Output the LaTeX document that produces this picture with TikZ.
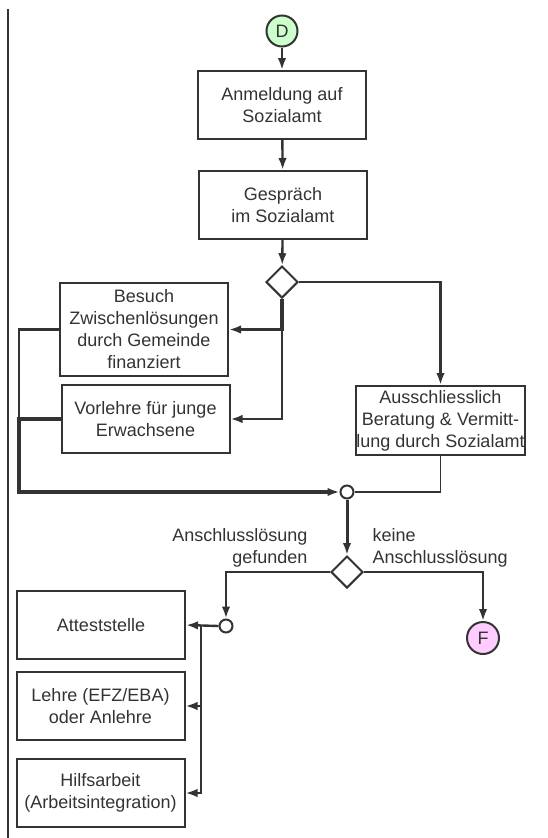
\documentclass[tikz,border=0pt]{standalone}
\usepackage{fontspec}
\setmainfont{Liberation Sans}
\usetikzlibrary{arrows.meta,shapes.geometric}
\definecolor{ink}{HTML}{333333}
\definecolor{startgreen}{HTML}{CCFFCC}
\definecolor{stoppink}{HTML}{FFCCFF}

\begin{document}
\begin{tikzpicture}[x=1pt, y=-1pt, >={Latex[length=12pt,width=8.5pt]},
    every node/.style={font=\fontsize{18}{22}\selectfont, text=ink},
    box/.style={draw=ink, line width=2pt, minimum width=168pt, minimum height=68pt, align=center, inner sep=0pt},
    term/.style={draw=ink, line width=2pt, circle, minimum size=31pt, inner sep=0pt},
    choice/.style={draw=ink, line width=2pt, diamond, minimum size=32pt, inner sep=0pt},
    merge/.style={draw=ink, line width=2pt, circle, fill=white, minimum size=13pt, inner sep=0pt},
    flow/.style={draw=ink, line width=2.4pt},
    thin flow/.style={draw=ink, line width=1.6pt}]
    \useasboundingbox (0, 0) rectangle (547, 838);
    \draw[ink, line width=1.8pt] (8, 9) -- (8, 838);

    \node[term, fill=startgreen] at (282, 31) (start) {D};
    \node[box] at (282, 105) (anmeldung) {Anmeldung auf\\Sozialamt};
    \node[box] at (283, 205) (gespraech) {Gespräch\\im Sozialamt};
    \node[choice] at (282, 282) (dec1) {};
    \node[box, minimum height=93pt] at (144, 329.5) (besuch) {Besuch\\Zwischenlösungen\\durch Gemeinde\\finanziert};
    \node[box] at (145.5, 419) (vorlehre) {Vorlehre für junge\\Erwachsene};
    \node[box, minimum width=169pt, minimum height=69pt] at (440.5, 420.5) (beratung) {Ausschliesslich\\Beratung \& Vermitt-\\lung durch Sozialamt};
    \node[merge] at (347, 492) (merge1) {};
    \node[choice] at (347, 572) (dec2) {};
    \node[merge] at (226, 626) (merge2) {};
    \node[box] at (101, 625) (attest) {Atteststelle};
    \node[box] at (100.5, 706) (lehre) {Lehre (EFZ/EBA)\\oder Anlehre};
    \node[box] at (100.5, 793) (hilfs) {Hilfsarbeit\\(Arbeitsintegration)};
    \node[term, fill=stoppink, minimum size=32pt] at (483, 638) (stop) {F};

    \node[anchor=east, align=right] at (311, 548) (found) {Anschlusslösung\\gefunden};
    \node[anchor=west, align=left] at (369, 548) (notfound) {keine\\Anschlusslösung};

    \coordinate (leftbus) at (19, 492);
    \coordinate (split) at (201, 626);

    \draw[->, flow] (start) -- (anmeldung);
    \draw[->, flow] (anmeldung) -- (gespraech);
    \draw[->, flow] (gespraech) -- (dec1);
    \draw[->, flow, line width=3.2pt] (dec1.south) |- (besuch.east);
    \draw[->, flow] (dec1.south) |- (vorlehre.east);
    \draw[->, flow] (dec1.east) -| (beratung.north);
    \draw[flow] (besuch.west) -| (leftbus);
    \draw[->, flow, line width=3.2pt] (vorlehre.west) -| (leftbus) -- (merge1.west);
    \draw[thin flow] (beratung.south) |- (merge1.east);
    \draw[->, flow, line width=3pt] (merge1) -- (dec2);
    \draw[->, flow] (dec2.west) -| (merge2.north);
    \draw[->, flow] (dec2.east) -| (stop.north);
    \draw[->, flow] (merge2.west) -- (attest.east);
    \draw[->, flow] (split) |- (lehre.east);
    \draw[->, flow] (split) |- (hilfs.east);
\end{tikzpicture}
\end{document}
